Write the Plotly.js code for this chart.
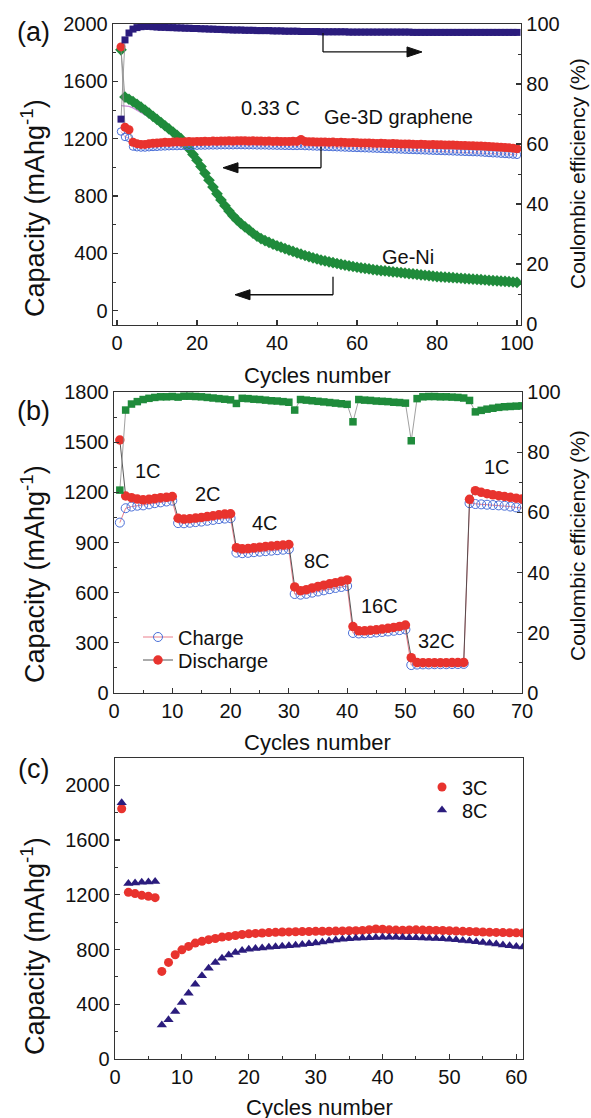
<!DOCTYPE html>
<html><head><meta charset="utf-8">
<script src="https://cdn.plot.ly/plotly-3.0.1.min.js"></script>
<style>html,body{margin:0;padding:0;background:#fff}#chart{width:591px;height:1118px}</style>
</head><body><div id="chart"></div>
<script>
// ---------------- Panel (a) data: cycles 1..100 ----------------
const aGe3dDischarge = [1840,1280,1262,1175,1165,1160,1160,1165,1168,1170,
 1172,1175,1174,1176,1178,1177,1178,1180,1179,1181,
 1180,1182,1181,1183,1182,1184,1183,1185,1184,1186,
 1185,1186,1184,1185,1183,1184,1182,1183,1181,1182,
 1180,1181,1180,1182,1181,1195,1180,1179,1178,1177,
 1176,1177,1175,1176,1174,1175,1173,1172,1173,1171,
 1170,1169,1170,1168,1167,1168,1166,1165,1166,1164,
 1163,1162,1163,1161,1160,1161,1159,1158,1159,1157,
 1158,1156,1155,1156,1154,1153,1152,1151,1150,1149,
 1148,1147,1145,1144,1142,1140,1138,1136,1134,1130];
const aGe3dCharge = [1250,1212,1205,1145,1140,1138,1138,1140,1142,1143,
 1145,1146,1147,1148,1148,1149,1150,1150,1151,1151,
 1152,1152,1153,1153,1153,1154,1154,1154,1154,1155,
 1155,1154,1154,1154,1153,1153,1153,1152,1152,1151,
 1151,1150,1150,1149,1149,1150,1148,1147,1146,1145,
 1144,1143,1142,1141,1140,1139,1138,1137,1136,1135,
 1134,1133,1132,1131,1130,1129,1128,1127,1126,1125,
 1124,1123,1122,1121,1120,1119,1118,1117,1116,1115,
 1114,1113,1112,1111,1110,1109,1108,1107,1106,1105,
 1104,1102,1100,1098,1097,1095,1093,1091,1089,1087];
const aGeNiDischarge = [1820,1490,1475,1458,1440,1420,1400,1378,1356,1334,
 1312,1290,1268,1246,1224,1200,1165,1130,1090,1050,
 1005,958,910,862,815,772,732,695,662,633,
 607,584,563,540,520,503,489,476,464,453,
 443,433,423,413,403,394,385,377,369,361,
 353,347,341,335,329,323,318,313,308,303,
 299,295,291,287,283,280,277,274,271,268,
 265,262,259,256,253,250,247,244,241,238,
 236,234,232,230,228,226,224,222,220,218,
 216,214,212,210,208,206,204,202,200,198];
const aGeNiCharge = [1430,1430,1425,1415,1400,1385,1368,1350,1332,1313,
 1294,1274,1254,1233,1211,1188,1153,1116,1076,1034,
 990,943,895,847,800,757,718,682,650,622,
 597,575,554,532,513,497,483,470,458,447,
 437,427,418,408,398,389,381,373,366,358,
 350,344,338,332,326,320,315,310,305,300,
 296,292,288,284,280,277,274,271,268,265,
 262,259,256,253,250,247,244,241,238,235,
 233,231,229,227,225,223,221,219,217,215,
 213,211,209,207,205,203,201,199,197,195];
const aCoulombic = [68.3,94.7,97.0,98.3,98.8,99.1,99.2,99.2,99.1,99.0,
 98.9,98.9,98.8,98.8,98.7,98.7,98.6,98.6,98.5,98.5,
 98.4,98.4,98.3,98.3,98.2,98.2,98.1,98.1,98.0,98.0,
 98.0,97.9,97.9,97.9,97.8,97.8,97.8,97.8,97.7,97.7,
 97.7,97.6,97.6,97.6,97.6,97.5,97.5,97.5,97.5,97.5,
 97.4,97.4,97.4,97.4,97.4,97.4,97.4,97.3,97.3,97.3,
 97.3,97.3,97.3,97.3,97.3,97.3,97.3,97.3,97.3,97.3,
 97.3,97.3,97.3,97.2,97.2,97.2,97.2,97.2,97.2,97.2,
 97.2,97.2,97.2,97.2,97.2,97.2,97.2,97.2,97.2,97.2,
 97.2,97.2,97.2,97.2,97.2,97.2,97.2,97.2,97.2,97.2];

// ---------------- Panel (b) data: cycles 1..70 ----------------
const bDischarge = [1513,1178,1168,1160,1155,1158,1163,1168,1170,1175,
 1045,1040,1042,1046,1050,1055,1060,1066,1070,1072,
 869,862,864,868,872,876,879,882,885,888,
 634,612,618,628,637,645,653,660,668,676,
 397,372,372,375,378,382,387,392,398,406,
 211,182,181,181,181,181,181,182,182,183,
 1158,1210,1200,1192,1185,1180,1175,1170,1165,1160];
const bCharge = [1019,1105,1115,1120,1122,1128,1135,1140,1145,1150,
 1016,1015,1018,1022,1025,1030,1035,1040,1043,1045,
 839,836,838,842,845,848,851,854,857,860,
 592,588,593,600,607,614,621,628,634,640,
 359,356,357,359,362,365,368,372,376,380,
 167,170,171,171,172,172,172,173,173,174,
 1135,1130,1128,1126,1124,1122,1120,1115,1110,1106];
const bCoulombic = [67.4,94.0,96.0,96.8,97.5,97.9,98.2,98.4,98.4,98.5,
 98.3,98.6,98.6,98.5,98.4,98.2,98.0,97.8,97.6,97.4,
 96.2,97.9,97.8,97.6,97.5,97.3,97.1,97.0,96.8,96.6,
 94.0,97.5,97.3,97.1,96.9,96.7,96.5,96.3,96.1,95.9,
 90.1,97.5,97.3,97.2,97.0,96.9,96.8,96.6,96.5,96.3,
 83.8,97.8,98.4,98.5,98.5,98.4,98.4,98.3,98.2,98.0,
 97.2,93.4,93.9,94.3,94.6,94.9,95.1,95.2,95.3,95.4];
const bRateLabels = ['1C','2C','4C','8C','16C','32C','1C'];
const bRateLabelX = [5.8,16.1,25.9,34.8,45.6,55.4,65.7];
const bRateLabelY = [1328,1190,1017,789,520,311,1352];

// ---------------- Panel (c) data: cycles 1..61 ----------------
const c3C = [1829,1218,1209,1196,1189,1179,
 640,706,762,798,823,847,860,872,881,891,896,903,910,915,
 918,921,924,926,928,929,930,931,932,933,
 934,934,935,936,937,938,940,945,950,948,
 944,942,941,943,944,942,941,940,939,937,
 935,933,932,930,928,926,925,924,923,922,921];
const c8C = [1873,1282,1287,1292,1294,1297,
 249,286,347,413,481,547,608,664,706,737,760,779,793,803,
 808,812,816,820,824,828,832,837,842,848,
 855,862,869,875,879,882,884,886,888,889,
 889,889,888,887,886,884,882,880,878,875,
 871,867,862,857,852,846,840,834,828,822,818];

const cyc = arr => arr.map((_, i) => i + 1);

// ---------------- styling ----------------
const FONT = 'Liberation Sans, Arial, Helvetica, sans-serif';
const W = 591, H = 1118;
const RED = '#e8332e', BLUE = '#4a6fd8', GREEN = '#1f8b3b', NAVY = '#2b1c7d';
const px = v => v / W, py = v => 1 - v / H;

// plot boxes in pixels: [left, right, top, bottom]
const boxA = [113, 521, 24, 325];
const boxB = [114, 522, 392, 693];
const boxC = [115, 523, 758, 1059];
const dom = b => ({x: [px(b[0]), px(b[1])], y: [py(b[3]), py(b[2])]});
const dA = dom(boxA), dB = dom(boxB), dC = dom(boxC);

const traces = [
  // panel a
  {x: cyc(aGeNiCharge), y: aGeNiCharge, xaxis: 'x', yaxis: 'y', mode: 'lines',
   line: {color: '#c98bd8', width: 1.3}, showlegend: false, hoverinfo: 'skip'},
  {x: cyc(aGeNiDischarge), y: aGeNiDischarge, xaxis: 'x', yaxis: 'y', mode: 'lines+markers',
   line: {color: '#888', width: 0.8}, marker: {symbol: 'diamond', size: 9, color: GREEN},
   showlegend: false},
  {x: cyc(aGe3dCharge), y: aGe3dCharge, xaxis: 'x', yaxis: 'y', mode: 'lines+markers',
   line: {color: '#e890a8', width: 0.8},
   marker: {symbol: 'circle-open', size: 7.5, color: BLUE, line: {width: 1, color: BLUE}},
   showlegend: false},
  {x: cyc(aGe3dDischarge), y: aGe3dDischarge, xaxis: 'x', yaxis: 'y', mode: 'lines+markers',
   line: {color: '#888', width: 0.8}, marker: {symbol: 'circle', size: 9, color: RED},
   showlegend: false},
  {x: cyc(aCoulombic), y: aCoulombic, xaxis: 'x', yaxis: 'y2', mode: 'lines+markers',
   line: {color: '#888', width: 0.8}, marker: {symbol: 'square', size: 7, color: NAVY},
   showlegend: false},
  // panel b
  {x: cyc(bCoulombic), y: bCoulombic, xaxis: 'x2', yaxis: 'y4', mode: 'lines+markers',
   line: {color: '#888', width: 0.8}, marker: {symbol: 'square', size: 7.5, color: GREEN},
   showlegend: false},
  {x: cyc(bCharge), y: bCharge, xaxis: 'x2', yaxis: 'y3', mode: 'lines+markers', name: 'Charge',
   line: {color: '#e87080', width: 0.9},
   marker: {symbol: 'circle-open', size: 9, color: BLUE, line: {width: 1, color: BLUE}},
   legend: 'legend'},
  {x: cyc(bDischarge), y: bDischarge, xaxis: 'x2', yaxis: 'y3', mode: 'lines+markers', name: 'Discharge',
   line: {color: '#444', width: 0.9}, marker: {symbol: 'circle', size: 9.5, color: RED},
   legend: 'legend3'},
  // panel c
  {x: cyc(c3C), y: c3C, xaxis: 'x3', yaxis: 'y5', mode: 'markers', name: '3C',
   marker: {symbol: 'circle', size: 9, color: RED}, legend: 'legend2'},
  {x: cyc(c8C), y: c8C, xaxis: 'x3', yaxis: 'y5', mode: 'markers', name: '8C',
   marker: {symbol: 'triangle-up', size: 9, color: NAVY}, legend: 'legend4'}
];

const tickFont = {family: FONT, size: 20, color: '#111'};
function ax(extra) {
  return Object.assign({
    showline: true, linecolor: '#333', linewidth: 1.3, showgrid: false, zeroline: false,
    ticks: 'inside', ticklen: 5, tickwidth: 1.2, tickcolor: '#333', tickfont: tickFont,
    fixedrange: true
  }, extra);
}
function minor(d) { return {dtick: d, ticks: 'inside', ticklen: 3, tickwidth: 1, tickcolor: '#333', showgrid: false}; }
function leg(xPx, yPx) {
  return {x: px(xPx), y: py(yPx), xanchor: 'left', yanchor: 'middle', bgcolor: 'rgba(0,0,0,0)',
          font: {family: FONT, size: 20, color: '#111'}, tracegroupgap: 0, itemwidth: 30,
          borderwidth: 0};
}

const layout = {
  width: W, height: H, margin: {l: 0, r: 0, t: 0, b: 0},
  paper_bgcolor: '#fff', plot_bgcolor: '#fff',
  font: {family: FONT, color: '#111'},
  xaxis: ax({domain: dA.x, anchor: 'y', range: [-1, 101], tick0: 0, dtick: 20, minor: minor(10), mirror: true}),
  yaxis: ax({domain: dA.y, anchor: 'x', range: [-100, 2000], tick0: 0, dtick: 400, minor: minor(200)}),
  yaxis2: ax({overlaying: 'y', side: 'right', anchor: 'x', range: [-0.3, 100], tick0: 0, dtick: 20, minor: minor(10)}),
  xaxis2: ax({domain: dB.x, anchor: 'y3', range: [0, 70], tick0: 0, dtick: 10, minor: minor(5), mirror: true}),
  yaxis3: ax({domain: dB.y, anchor: 'x2', range: [0, 1800], tick0: 0, dtick: 300, minor: minor(150)}),
  yaxis4: ax({overlaying: 'y3', side: 'right', anchor: 'x2', range: [0, 100], tick0: 0, dtick: 20, minor: minor(10)}),
  xaxis3: ax({domain: dC.x, anchor: 'y5', range: [0, 61], tick0: 0, dtick: 10, minor: minor(5), mirror: true}),
  yaxis5: ax({domain: dC.y, anchor: 'x3', range: [0, 2200], tick0: 0, dtick: 400, minor: minor(200), mirror: true}),
  legend: leg(138, 637),
  legend3: leg(138, 660),
  legend2: leg(422, 787),
  legend4: leg(422, 810),
  annotations: [],
  shapes: []
};

const ann = layout.annotations;
function label(text, x, y, xref, yref, size, extra) {
  ann.push(Object.assign({text, x, y, xref, yref, showarrow: false, xanchor: 'center', yanchor: 'middle',
    font: {family: FONT, size: size, color: '#111'}}, extra || {}));
}
// panel letters
label('(a)', px(33), py(32), 'paper', 'paper', 27);
label('(b)', px(33), py(411), 'paper', 'paper', 27);
label('(c)', px(33), py(769), 'paper', 'paper', 27);
// axis titles
const capTitle = 'Capacity (mAhg<sup>-1</sup>)';
const ceTitle = 'Coulombic efficiency (%)';
label(capTitle, px(33), py(208), 'paper', 'paper', 27, {textangle: -90});
label(ceTitle, px(577), py(174), 'paper', 'paper', 21, {textangle: -90});
label('Cycles number', px(317), py(375), 'paper', 'paper', 22);
label(capTitle, px(33), py(574), 'paper', 'paper', 27, {textangle: -90});
label(ceTitle, px(577), py(546), 'paper', 'paper', 21, {textangle: -90});
label('Cycles number', px(318), py(742), 'paper', 'paper', 22);
label(capTitle, px(33), py(946), 'paper', 'paper', 27, {textangle: -90});
label('Cycles number', px(319), py(1107), 'paper', 'paper', 22);
// panel a in-plot text
label('0.33 C', 38.25, 1415, 'x', 'y', 20);
label('Ge-3D graphene', 70.25, 1352, 'x', 'y', 20);
label('Ge-Ni', 72.75, 376, 'x', 'y', 20);
// panel b rate labels
bRateLabels.forEach((t, i) => label(t, bRateLabelX[i], bRateLabelY[i], 'x2', 'y3', 20));

// bracket arrows in panel a (data coords of x / y)
const xPerPx = 102 / (boxA[1] - boxA[0]);
const yPerPx = 2100 / (boxA[3] - boxA[2]);
function bracketArrow(xv, yTop, yBot, xTip) {
  const sh = layout.shapes;
  const L = {color: '#111', width: 1.3};
  sh.push({type: 'line', xref: 'x', yref: 'y', x0: xv, x1: xv, y0: yTop, y1: yBot, line: L});
  const dir = xTip > xv ? 1 : -1;
  const headLen = 15 * xPerPx, halfH = 5 * yPerPx;
  const xBase = xTip - dir * headLen;
  sh.push({type: 'line', xref: 'x', yref: 'y', x0: xv, x1: xBase, y0: yBot, y1: yBot, line: L});
  sh.push({type: 'path', xref: 'x', yref: 'y',
    path: `M ${xTip},${yBot} L ${xBase},${yBot + halfH} L ${xBase},${yBot - halfH} Z`,
    fillcolor: '#111', line: {color: '#111', width: 1}});
}
bracketArrow(51.5, 1937, 1805, 76.25);
bracketArrow(51.0, 1143, 997, 26.5);
bracketArrow(54.0, 237, 111, 29.5);

Plotly.newPlot('chart', traces, layout, {staticPlot: true, displayModeBar: false});
</script>
</body></html>
